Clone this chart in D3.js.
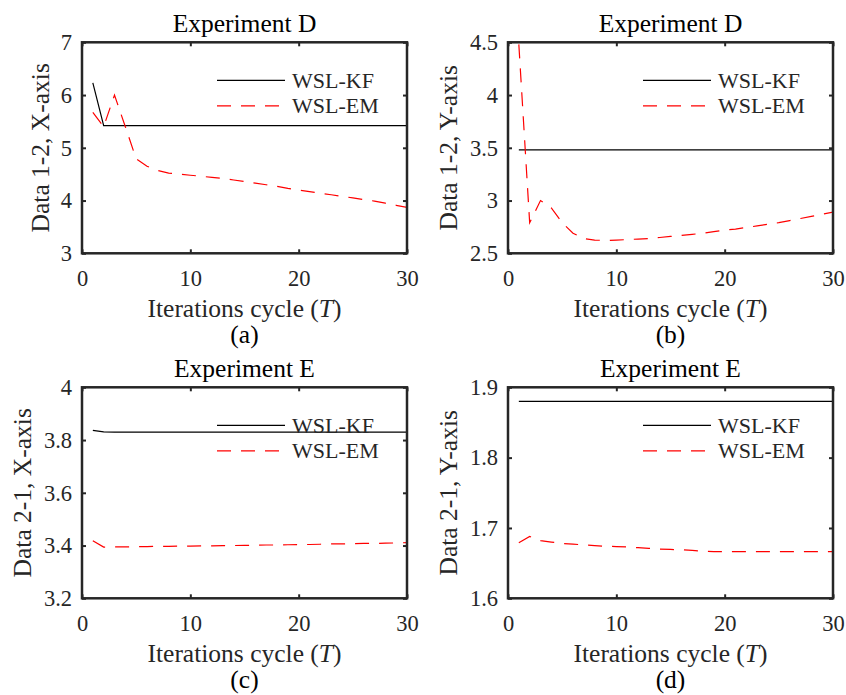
<!DOCTYPE html>
<html>
<head>
<meta charset="utf-8">
<script src="https://cdn.jsdelivr.net/npm/d3@7"></script>
<style>
  html, body { margin: 0; padding: 0; background: #fff; }
  svg, svg text { font-family: "Times New Roman", Times, "Liberation Serif", "DejaVu Serif", serif !important; }
  svg { display: block; }
</style>
</head>
<body>
<svg id="chart" width="846" height="695"></svg>
<script>
// ---------------- data ----------------
const iterations = d3.range(1, 31); // 1..30
const xTicks = [0, 10, 20, 30];
const seriesNames = ["WSL-KF", "WSL-EM"];
const panelTitles = ["Experiment D", "Experiment D", "Experiment E", "Experiment E"];
const yLabels = ["Data 1-2, X-axis", "Data 1-2, Y-axis", "Data 2-1, X-axis", "Data 2-1, Y-axis"];
const captions = ["(a)", "(b)", "(c)", "(d)"];

const yTicksA = [3, 4, 5, 6, 7];
const yTicksB = [2.5, 3, 3.5, 4, 4.5];
const yTicksC = [3.2, 3.4, 3.6, 3.8, 4];
const yTicksD = [1.6, 1.7, 1.8, 1.9];

const kfA = [6.23, 5.42, 5.42, 5.42, 5.42, 5.42, 5.42, 5.42, 5.42, 5.42,
             5.42, 5.42, 5.42, 5.42, 5.42, 5.42, 5.42, 5.42, 5.42, 5.42,
             5.42, 5.42, 5.42, 5.42, 5.42, 5.42, 5.42, 5.42, 5.42, 5.42];
const emA = [5.67, 5.40, 6.00, 5.40, 4.79, 4.65, 4.57, 4.52, 4.50, 4.48,
             4.46, 4.44, 4.42, 4.39, 4.36, 4.33, 4.30, 4.27, 4.23, 4.20,
             4.17, 4.14, 4.11, 4.08, 4.05, 4.02, 3.99, 3.95, 3.91, 3.87];

const kfB = [3.48, 3.48, 3.48, 3.48, 3.48, 3.48, 3.48, 3.48, 3.48, 3.48,
             3.48, 3.48, 3.48, 3.48, 3.48, 3.48, 3.48, 3.48, 3.48, 3.48,
             3.48, 3.48, 3.48, 3.48, 3.48, 3.48, 3.48, 3.48, 3.48, 3.48];
const emB = [4.48, 2.79, 3.00, 2.93, 2.79, 2.69, 2.64, 2.625, 2.622, 2.625,
             2.63, 2.635, 2.64, 2.65, 2.66, 2.67, 2.68, 2.69, 2.705, 2.72,
             2.73, 2.745, 2.76, 2.775, 2.79, 2.81, 2.83, 2.85, 2.87, 2.89];

const kfC = [3.837, 3.831, 3.83, 3.83, 3.83, 3.83, 3.83, 3.83, 3.83, 3.83,
             3.83, 3.83, 3.83, 3.83, 3.83, 3.83, 3.83, 3.83, 3.83, 3.83,
             3.83, 3.83, 3.83, 3.83, 3.83, 3.83, 3.83, 3.83, 3.83, 3.83];
const emC = [3.418, 3.394, 3.395, 3.395, 3.396, 3.396, 3.397, 3.397, 3.398, 3.398,
             3.399, 3.399, 3.400, 3.400, 3.401, 3.401, 3.402, 3.402, 3.403, 3.404,
             3.404, 3.405, 3.406, 3.406, 3.407, 3.408, 3.408, 3.409, 3.410, 3.411];

const kfD = [1.88, 1.88, 1.88, 1.88, 1.88, 1.88, 1.88, 1.88, 1.88, 1.88,
             1.88, 1.88, 1.88, 1.88, 1.88, 1.88, 1.88, 1.88, 1.88, 1.88,
             1.88, 1.88, 1.88, 1.88, 1.88, 1.88, 1.88, 1.88, 1.88, 1.88];
const emD = [1.679, 1.688, 1.682, 1.680, 1.678, 1.677, 1.676, 1.675, 1.674, 1.6735,
             1.673, 1.672, 1.671, 1.670, 1.6695, 1.669, 1.668, 1.667, 1.6665, 1.6665,
             1.6665, 1.6665, 1.6665, 1.6665, 1.6665, 1.6665, 1.6665, 1.6665, 1.6665, 1.6665];

// ---------------- layout ----------------
const panels = [
  { left: 82,  top: 42.3,  yTicks: yTicksA, kf: kfA, em: emA, ylabOff: 33 },
  { left: 508, top: 42.3,  yTicks: yTicksB, kf: kfB, em: emB, ylabOff: 51 },
  { left: 82,  top: 387.3, yTicks: yTicksC, kf: kfC, em: emC, ylabOff: 51 },
  { left: 508, top: 387.3, yTicks: yTicksD, kf: kfD, em: emD, ylabOff: 51 }
];
const W = 325, H = 211;
const axisColor = "#262626";
const fontFam = "'Times New Roman', Times, 'Liberation Serif', 'DejaVu Serif', serif";
const labelSize = "25.5px";
const svg = d3.select("#chart");

panels.forEach((p, i) => {
  const g = svg.append("g").attr("transform", `translate(${p.left},${p.top})`);
  const x = d3.scaleLinear().domain([0, 30]).range([0, W]);
  const y = d3.scaleLinear().domain(d3.extent(p.yTicks)).range([H, 0]);

  const clipId = "clip" + i;
  g.append("clipPath").attr("id", clipId).append("rect")
    .attr("x", 0).attr("y", 0).attr("width", W).attr("height", H);

  // Axes (inward ticks)
  const tickLen = 4;
  const fmt = d3.format("~g");
  const xb = g.append("g").attr("transform", `translate(0,${H})`)
    .call(d3.axisBottom(x).tickValues(xTicks).tickSizeInner(-tickLen).tickSizeOuter(0).tickPadding(17));
  const xt = g.append("g")
    .call(d3.axisTop(x).tickValues(xTicks).tickSizeInner(-tickLen).tickSizeOuter(0).tickFormat(""));
  const yl = g.append("g")
    .call(d3.axisLeft(y).tickValues(p.yTicks).tickSizeInner(-tickLen).tickSizeOuter(0).tickPadding(10).tickFormat(fmt));
  const yr = g.append("g").attr("transform", `translate(${W},0)`)
    .call(d3.axisRight(y).tickValues(p.yTicks).tickSizeInner(-tickLen).tickSizeOuter(0).tickFormat(""));
  [xb, xt, yl, yr].forEach(a => {
    a.attr("font-family", fontFam);
    a.select(".domain").remove();
    a.selectAll(".tick line").attr("stroke", axisColor).attr("stroke-width", 2);
    a.selectAll(".tick text").attr("fill", axisColor).style("font-size", "22.5px");
  });

  // Lines
  const line = d3.line().x((d, k) => x(iterations[k])).y(d => y(d));
  const lg = g.append("g").attr("clip-path", `url(#${clipId})`);
  lg.append("path").datum(p.kf).attr("d", line)
    .attr("fill", "none").attr("stroke", "#000").attr("stroke-width", 1.2);
  lg.append("path").datum(p.em).attr("d", line)
    .attr("fill", "none").attr("stroke", "#ff0000").attr("stroke-width", 1.2)
    .attr("stroke-dasharray", "14,10");

  // Box
  g.append("rect").attr("x", 0).attr("y", 0).attr("width", W).attr("height", H)
    .attr("fill", "none").attr("stroke", axisColor).attr("stroke-width", 2.5);

  // Legend
  seriesNames.forEach((name, k) => {
    const ly = 38 + k * 25.5;
    g.append("line").attr("x1", W - 190).attr("x2", W - 122).attr("y1", ly).attr("y2", ly)
      .attr("stroke", k === 0 ? "#000" : "#ff0000").attr("stroke-width", 1.2)
      .attr("stroke-dasharray", k === 0 ? null : "14,10");
    g.append("text").attr("x", W - 115).attr("y", ly).attr("dy", "0.35em")
      .attr("fill", axisColor).style("font-size", "22px").text(name);
  });

  // Title
  g.append("text").attr("x", W / 2).attr("y", -10).attr("text-anchor", "middle")
    .attr("fill", "#000").style("font-size", labelSize).text(panelTitles[i]);

  // X label
  const xlab = g.append("text").attr("x", W / 2).attr("y", H + 63.5).attr("text-anchor", "middle")
    .attr("fill", axisColor).style("font-size", labelSize);
  xlab.append("tspan").text("Iterations cycle (");
  xlab.append("tspan").style("font-style", "italic").text("T");
  xlab.append("tspan").text(")");

  // Y label
  g.append("text").attr("transform", `translate(${-p.ylabOff},${H / 2}) rotate(-90)`)
    .attr("text-anchor", "middle").attr("fill", axisColor).style("font-size", labelSize)
    .text(yLabels[i]);

  // Caption
  g.append("text").attr("x", W / 2).attr("y", H + 90).attr("text-anchor", "middle")
    .attr("fill", "#000").style("font-size", labelSize).text(captions[i]);
});
</script>
</body>
</html>
